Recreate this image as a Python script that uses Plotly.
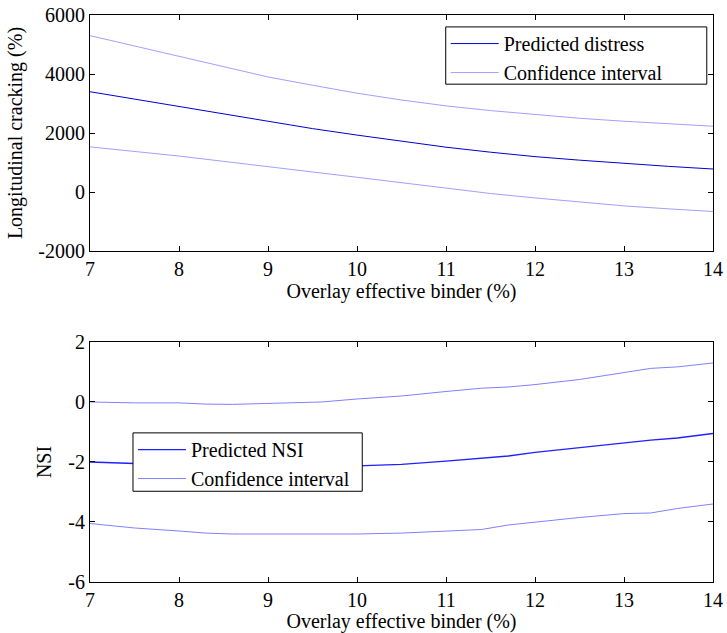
import plotly.graph_objects as go
from plotly.subplots import make_subplots

# Top panel: longitudinal cracking
x_top = [7, 7.5, 8, 8.5, 9, 9.5, 10, 10.5, 11, 11.5, 12, 12.5, 13, 13.5, 14]
lc_pred = [3400, 3150, 2900, 2650, 2380, 2150, 1930, 1720, 1520, 1350, 1200, 1080, 970, 870, 780]
lc_upper = [5300, 4950, 4620, 4250, 3900, 3620, 3350, 3120, 2920, 2760, 2620, 2500, 2400, 2310, 2230]
lc_lower = [1530, 1380, 1220, 1040, 850, 680, 500, 310, 120, -50, -200, -340, -470, -570, -660]

# Bottom panel: NSI
x_bot = [7, 7.5, 8, 8.3, 8.6, 9, 9.3, 9.6, 10, 10.5, 11, 11.4, 11.7, 12, 12.5, 13, 13.3, 13.6, 14]
nsi_pred = [-2.0, -2.06, -2.1, -2.12, -2.13, -2.14, -2.14, -2.14, -2.13, -2.08, -1.97, -1.88, -1.8, -1.68, -1.52, -1.35, -1.27, -1.2, -1.05]
nsi_upper = [0.0, -0.03, -0.03, -0.07, -0.08, -0.05, -0.04, 0.0, 0.1, 0.2, 0.35, 0.46, 0.5, 0.58, 0.75, 0.97, 1.12, 1.17, 1.3]
nsi_lower = [-4.05, -4.2, -4.3, -4.37, -4.4, -4.4, -4.4, -4.4, -4.4, -4.37, -4.3, -4.25, -4.1, -4.0, -3.85, -3.72, -3.7, -3.55, -3.4]

xticks = [7, 8, 9, 10, 11, 12, 13, 14]
top_ticks = [-2000, 0, 2000, 4000, 6000]
top_ticktext = ["-2000", "0", "2000", "4000", "6000"]
bot_ticks = [-6, -4, -2, 0, 2]
bot_ticktext = ["-6", "-4", "-2", "0", "2"]

FONT = "Liberation Serif"
FS = 20
LFS = 20

fig = make_subplots(rows=2, cols=1)

fig.add_trace(go.Scatter(x=x_top, y=lc_pred, mode="lines", name="Predicted distress",
                         line=dict(color="#0000d0", width=1), legend="legend"), row=1, col=1)
fig.add_trace(go.Scatter(x=x_top, y=lc_upper, mode="lines", name="Confidence interval",
                         line=dict(color="#a0a0ff", width=1), legend="legend"), row=1, col=1)
fig.add_trace(go.Scatter(x=x_top, y=lc_lower, mode="lines", name="Confidence interval",
                         line=dict(color="#a0a0ff", width=1), showlegend=False), row=1, col=1)

fig.add_trace(go.Scatter(x=x_bot, y=nsi_pred, mode="lines", name="Predicted NSI",
                         line=dict(color="#2020ff", width=1.3), legend="legend2"), row=2, col=1)
fig.add_trace(go.Scatter(x=x_bot, y=nsi_upper, mode="lines", name="Confidence interval",
                         line=dict(color="#8080ff", width=1), legend="legend2"), row=2, col=1)
fig.add_trace(go.Scatter(x=x_bot, y=nsi_lower, mode="lines", name="Confidence interval",
                         line=dict(color="#8080ff", width=1), showlegend=False), row=2, col=1)

axis_common = dict(showline=True, linecolor="black", linewidth=1, mirror="allticks",
                   ticks="inside", ticklen=5, tickcolor="black", showgrid=False,
                   zeroline=False, automargin=False,
                   tickfont=dict(family=FONT, size=FS, color="black"))

fig.update_xaxes(**axis_common, range=[7, 14], tickvals=xticks,
                 title=dict(text="Overlay effective binder (%)", font=dict(family=FONT, size=FS, color="black"),
                            standoff=3))
fig.update_yaxes(**axis_common)

# legend frames (MATLAB-style boxes)
fig.add_shape(type="rect", xref="paper", yref="paper", x0=0.571, x1=0.990, y0=0.878, y1=0.979,
              line=dict(color="black", width=1), fillcolor="white", layer="above")
fig.add_shape(type="rect", xref="paper", yref="paper", x0=0.069, x1=0.437, y0=0.160, y1=0.263,
              line=dict(color="black", width=1), fillcolor="white", layer="above")

fig.update_layout(
    xaxis=dict(domain=[0, 1]),
    yaxis=dict(domain=[0.5837, 1.0], range=[-2000, 6000], tickvals=top_ticks, ticktext=top_ticktext,
               title=dict(text="Longitudinal cracking (%)", font=dict(family=FONT, size=FS, color="black"),
                          standoff=10)),
    xaxis2=dict(domain=[0, 1]),
    yaxis2=dict(domain=[0.0, 0.4233], range=[-6, 2], tickvals=bot_ticks, ticktext=bot_ticktext,
                title=dict(text="NSI", font=dict(family=FONT, size=FS, color="black"), standoff=11)),
    width=727, height=633,
    margin=dict(l=90, r=14, t=15, b=51),
    plot_bgcolor="white", paper_bgcolor="white",
    font=dict(family=FONT, size=FS, color="black"),
    legend=dict(x=0.571, y=0.984, xanchor="left", yanchor="top", bgcolor="rgba(0,0,0,0)",
                borderwidth=0, font=dict(family=FONT, size=LFS, color="black"),
                tracegroupgap=0, itemwidth=48),
    legend2=dict(x=0.069, y=0.268, xanchor="left", yanchor="top", bgcolor="rgba(0,0,0,0)",
                 borderwidth=0, font=dict(family=FONT, size=LFS, color="black"),
                 tracegroupgap=0, itemwidth=48),
)

fig.write_html("out.html")
